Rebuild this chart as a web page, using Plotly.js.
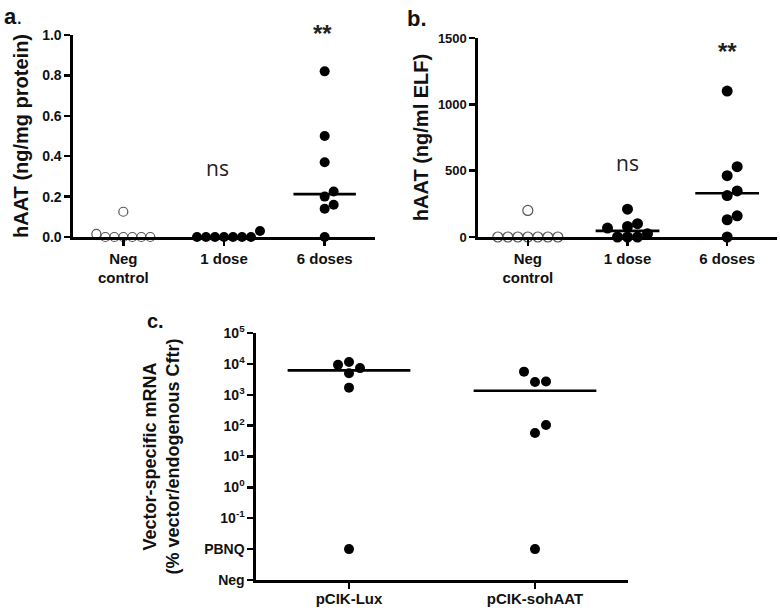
<!DOCTYPE html>
<html>
<head>
<meta charset="utf-8">
<script src="https://cdn.plot.ly/plotly-3.0.1.min.js"></script>
<style>html,body{margin:0;padding:0;background:#fff;}#chart{width:780px;height:610px;}</style>
</head>
<body>
<div id="chart"></div>
<script>
// ---------- data ----------
const categoriesAB = ['Neg<br>control', '1 dose', '6 doses'];
const aNeg = [0, 0, 0, 0, 0, 0, 0.015, 0.125];
const aOne = [0, 0, 0, 0, 0, 0, 0, 0.03];
const aSix = [0, 0.14, 0.16, 0.20, 0.225, 0.37, 0.50, 0.82];
const bNeg = [0, 0, 0, 0, 0, 0, 0, 200];
const bOne = [0, 0, 0, 25, 67, 80, 100, 210];
const bSix = [0, 130, 160, 312, 347, 462, 530, 1100];
const sigLabels = ['', 'ns', '**'];
const sigA = [null, 0.34, 1.0];
const sigB = [null, 560, 1400];
const aTicks = [0, 0.2, 0.4, 0.6, 0.8, 1.0];
const aTickText = ['0.0', '0.2', '0.4', '0.6', '0.8', '1.0'];
const bTicks = [0, 500, 1000, 1500];
const bTickText = ['0', '500', '1000', '1500'];

const categoriesC = ['pCIK-Lux', 'pCIK-sohAAT'];
const cLux = ['PBNQ', 1700, 5000, 7300, 9300, 11500];
const cSoh = ['PBNQ', 58, 105, 2600, 2700, 5600];
const cTickVals = [0.001, 0.01, 0.1, 1, 10, 100, 1000, 10000, 100000];
const cTickText = ['Neg', 'PBNQ', '10<sup>-1</sup>', '10<sup>0</sup>', '10<sup>1</sup>', '10<sup>2</sup>', '10<sup>3</sup>', '10<sup>4</sup>', '10<sup>5</sup>'];

// ---------- layout helpers ----------
const W = 780, H = 610;
const PBNQ_LEVEL = 0.01; // axis position of the PBNQ band
const dom = {
  a: {x: [73 / W, 375 / W], y: [1 - 237 / H, 1 - 35 / H]},
  b: {x: [478 / W, 777 / W], y: [1 - 237 / H, 1 - 38 / H]},
  c: {x: [256 / W, 628 / W], y: [1 - 580 / H, 1 - 333 / H]}
};
const xRangeAB = [-0.5, 2.5], xRangeC = [-0.5, 1.5];
const yRangeA = [0, 1], yRangeB = [0, 1500], yRangeC = [-3, 5];

function pxPer(domain, range, len) { return (domain[1] - domain[0]) * len / (range[1] - range[0]); }
const bold = arr => arr.map(t => '<b>' + t + '</b>');

function median(arr) {
  const s = arr.slice().sort((p, q) => p - q);
  const n = s.length;
  return n % 2 ? s[(n - 1) / 2] : (s[n / 2 - 1] + s[n / 2]) / 2;
}

// simple deterministic beeswarm: returns x offsets (data units)
function swarm(vals, yPx, step, pxX) {
  const idx = vals.map((v, i) => i).sort((i, j) => vals[i] - vals[j]);
  const placed = [];
  const off = new Array(vals.length).fill(0);
  idx.forEach(i => {
    const py = vals[i] * yPx;
    for (let k = 0; k < 40; k++) {
      const m = k === 0 ? 0 : (k % 2 ? (k + 1) / 2 : -k / 2);
      const ox = m * step;
      const ok = placed.every(p => Math.hypot(ox - p.ox, py - p.py) >= step - 0.01);
      if (ok) { placed.push({ox, py}); off[i] = ox / pxX; break; }
    }
  });
  return off;
}

const traces = [];
const annotations = [];

function addGroup(vals, plotVals, center, xa, ya, pxX, pxY, open, size, step) {
  const offs = swarm(plotVals, pxY, step, pxX);
  traces.push({
    type: 'scatter', mode: 'markers', xaxis: xa, yaxis: ya,
    x: offs.map(o => center + o), y: vals, cliponaxis: false, hoverinfo: 'skip',
    marker: open ? {size: size - 1, color: '#ffffff', line: {color: '#555', width: 1.2}}
                 : {size: size, color: '#000000', line: {width: 0}}
  });
}

function addMedian(med, center, xa, ya, halfW) {
  traces.push({
    type: 'scatter', mode: 'lines', xaxis: xa, yaxis: ya, cliponaxis: false, hoverinfo: 'skip',
    x: [center - halfW, center + halfW], y: [med, med],
    line: {color: '#000', width: 2.6}
  });
}

// panel a
const pxXa = pxPer(dom.a.x, xRangeAB, W), pxYa = pxPer(dom.a.y, yRangeA, H);
[aNeg, aOne, aSix].forEach((g, i) => {
  addMedian(median(g), i, 'x', 'y', 0.31);
  addGroup(g, g, i, 'x', 'y', pxXa, pxYa, i === 0, 10, 9);
});
// panel b
const pxXb = pxPer(dom.b.x, xRangeAB, W), pxYb = pxPer(dom.b.y, yRangeB, H);
[bNeg, bOne, bSix].forEach((g, i) => {
  addMedian(median(g), i, 'x2', 'y2', 0.32);
  addGroup(g, g, i, 'x2', 'y2', pxXb, pxYb, i === 0, 11, 10);
});
// panel c
const pxXc = pxPer(dom.c.x, xRangeC, W), pxYc = pxPer(dom.c.y, yRangeC, H);
[cLux, cSoh].forEach((g, i) => {
  const vals = g.map(v => v === 'PBNQ' ? PBNQ_LEVEL : v);
  const logs = vals.map(v => Math.log10(v));
  addMedian(median(vals), i, 'x3', 'y3', 0.33);
  addGroup(vals, logs, i, 'x3', 'y3', pxXc, pxYc, false, 10, 11);
});

// significance labels
sigLabels.forEach((t, i) => {
  if (!t) return;
  const isStar = t === '**';
  const f = isStar ? {family: 'Arial, Liberation Sans, sans-serif', size: 24, color: '#222'}
                   : {family: 'Open Sans, Arial, sans-serif', size: 21, color: '#222'};
  annotations.push({xref: 'x', yref: 'y', x: i, y: sigA[i], text: isStar ? '<b>**</b>' : t, showarrow: false, font: f,
    xshift: isStar ? -2 : -7, yshift: isStar ? 1 : 0});
  annotations.push({xref: 'x2', yref: 'y2', x: i, y: sigB[i], text: isStar ? '<b>**</b>' : t, showarrow: false, font: f});
});

// panel letters
const letterFont = {family: 'Arial, Liberation Sans, sans-serif', size: 22, color: '#111'};
annotations.push({xref: 'paper', yref: 'paper', x: 2 / W, y: 1 - 2 / H, xanchor: 'left', yanchor: 'top', text: '<b>a</b>.', showarrow: false, font: letterFont});
annotations.push({xref: 'paper', yref: 'paper', x: 405 / W, y: 1 - 4 / H, xanchor: 'left', yanchor: 'top', text: '<b>b.</b>', showarrow: false, font: letterFont});
annotations.push({xref: 'paper', yref: 'paper', x: 145 / W, y: 1 - 308 / H, xanchor: 'left', yanchor: 'top', text: '<b>c.</b>', showarrow: false, font: {family: letterFont.family, size: 20, color: '#111'}});

const tickFont = {family: 'Arial, Liberation Sans, sans-serif', size: 14, color: '#111'};
const catFont = {family: 'Arial, Liberation Sans, sans-serif', size: 15, color: '#111'};
const titleFont = {family: 'Arial, Liberation Sans, sans-serif', size: 20, color: '#111'};

function xAxis(domain, range, cats, anchor, font, extra) {
  return Object.assign({domain, range, anchor, tickvals: cats.map((c, i) => i), ticktext: bold(cats),
    showline: true, linecolor: '#000', linewidth: 2.6, ticks: 'outside', ticklen: 6, tickwidth: 2.4, tickcolor: '#000',
    showgrid: false, zeroline: false, tickfont: font, fixedrange: true}, extra || {});
}
function yAxis(domain, range, anchor, extra) {
  return Object.assign({domain, range, anchor, showline: true, linecolor: '#000', linewidth: 2.6,
    ticks: 'outside', ticklen: 6, tickwidth: 2.4, tickcolor: '#000', showgrid: false, zeroline: false,
    tickfont: tickFont, fixedrange: true}, extra);
}

const layout = {
  width: W, height: H, margin: {l: 0, r: 0, t: 0, b: 0},
  paper_bgcolor: '#fff', plot_bgcolor: 'rgba(0,0,0,0)', showlegend: false,
  font: {family: 'Arial, Liberation Sans, sans-serif', color: '#111'},
  xaxis: xAxis(dom.a.x, xRangeAB, categoriesAB, 'y', catFont),
  yaxis: yAxis(dom.a.y, [0, 1], 'x', {tickvals: aTicks, ticktext: bold(aTickText),
    title: {text: '<b>hAAT (ng/mg protein)</b>', font: titleFont, standoff: 8}}),
  xaxis2: xAxis(dom.b.x, xRangeAB, categoriesAB, 'y2', catFont),
  yaxis2: yAxis(dom.b.y, yRangeB, 'x2', {tickvals: bTicks, ticktext: bold(bTickText), tickfont: Object.assign({}, tickFont, {size: 13}),
    title: {text: '<b>hAAT (ng/ml ELF)</b>', font: titleFont, standoff: 4}}),
  xaxis3: xAxis(dom.c.x, xRangeC, categoriesC, 'y3', Object.assign({}, catFont, {size: 15}), {ticklabelstandoff: -3}),
  yaxis3: yAxis(dom.c.y, yRangeC, 'x3', {type: 'log', tickvals: cTickVals, ticktext: bold(cTickText),
    title: {text: '<b>Vector-specific mRNA<br>(% vector/endogenous Cftr)</b>', font: Object.assign({}, titleFont, {size: 18}), standoff: 20}}),
  annotations
};

Plotly.newPlot('chart', traces, layout, {staticPlot: true, displayModeBar: false});
</script>
</body>
</html>
